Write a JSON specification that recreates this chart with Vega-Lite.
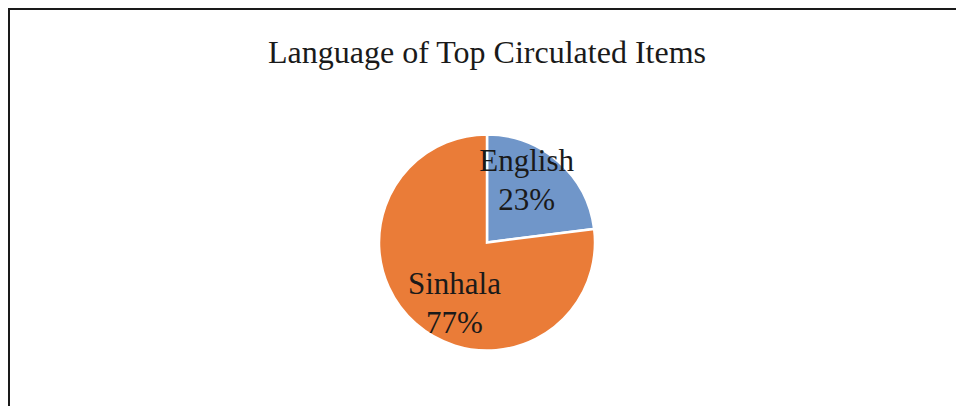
{
  "$schema": "https://vega.github.io/schema/vega-lite/v6.json",
  "width": 956,
  "height": 467,
  "autosize": "none",
  "padding": {"left": 9, "top": 9, "right": 0, "bottom": 0},
  "background": "white",
  "view": {"stroke": "#1a1a1a", "strokeWidth": 2},
  "title": {
    "text": "Language of Top Circulated Items",
    "font": "Liberation Serif",
    "fontSize": 32,
    "fontWeight": "normal",
    "color": "#1a1a1a",
    "anchor": "middle",
    "offset": -54,
    "dy": 32,
    "baseline": "alphabetic"
  },
  "data": {
    "values": [
      {"lang": "English", "pct": 23, "label": "English\n23%"},
      {"lang": "Sinhala", "pct": 77, "label": "Sinhala\n77%"}
    ]
  },
  "encoding": {
    "theta": {"field": "pct", "type": "quantitative", "stack": true}
  },
  "layer": [
    {
      "mark": {"type": "arc", "outerRadius": 108, "stroke": "white", "strokeWidth": 2.5},
      "encoding": {
        "color": {
          "field": "lang",
          "type": "nominal",
          "scale": {"domain": ["English", "Sinhala"], "range": ["#7096C9", "#EA7C38"]},
          "legend": null
        }
      }
    },
    {
      "mark": {"type": "text", "radius": 75, "dx": -10, "dy": -24, "font": "Liberation Serif", "fontSize": 31, "lineBreak": "\n", "lineHeight": 39, "baseline": "middle", "color": "#1a1a1a"},
      "encoding": {
        "text": {"condition": {"test": "datum.lang === 'English'", "field": "label", "type": "nominal"}, "value": ""}
      }
    },
    {
      "mark": {"type": "text", "radius": 75, "dx": 17, "dy": -14, "font": "Liberation Serif", "fontSize": 31, "lineBreak": "\n", "lineHeight": 39, "baseline": "middle", "color": "#1a1a1a"},
      "encoding": {
        "text": {"condition": {"test": "datum.lang === 'Sinhala'", "field": "label", "type": "nominal"}, "value": ""}
      }
    }
  ]
}
